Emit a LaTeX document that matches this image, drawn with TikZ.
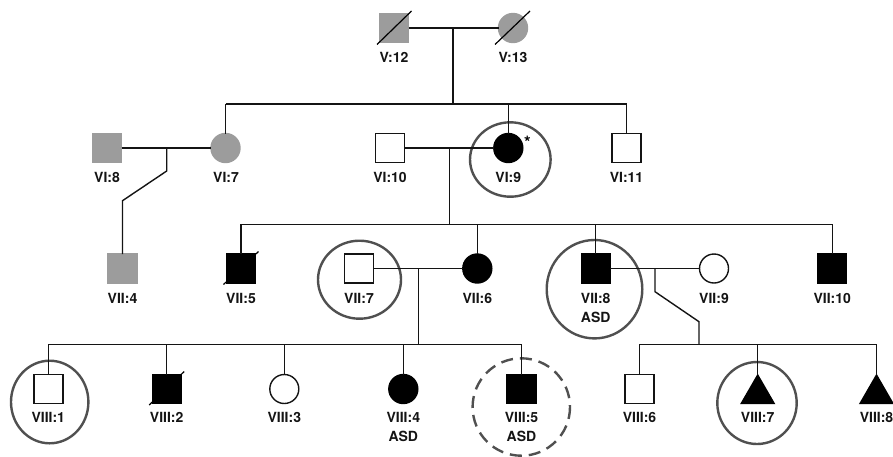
\documentclass[tikz,border=0pt]{standalone}
\usepackage{fontspec}
\setmainfont{TeX Gyre Heros}
\usetikzlibrary{shapes.geometric}
\definecolor{pgray}{RGB}{156,156,156}
\definecolor{ringc}{RGB}{80,80,80}
\definecolor{linec}{RGB}{20,20,20}
\begin{document}
\begin{tikzpicture}[x=1pt,y=-1pt, line width=1.4pt, draw=linec,
  every node/.style={inner sep=0pt, outer sep=0pt},
  sq/.style={draw=linec, rectangle, minimum size=29pt, fill=white},
  ci/.style={draw=linec, circle, minimum size=29pt, fill=white},
  tri/.style={draw=black, fill=black, regular polygon, regular polygon sides=3, minimum size=38pt},
  aff/.style={fill=black, draw=black},
  grayed/.style={fill=pgray, draw=pgray},
  lbl/.style={font=\bfseries\fontsize{14}{14}\selectfont, text=linec},
  ring/.style={draw=ringc, line width=2.4pt},
  dring/.style={draw=ringc, line width=2.4pt, dash pattern=on 12pt off 7pt},
  dead/.style={line width=1.2pt, draw=black}]
\useasboundingbox (0,0) rectangle (893,456);

% rings
\draw[ring] (510.3,159.5) ellipse [x radius=40.3, y radius=37.2];
\draw[ring] (359.5,279.7) ellipse [x radius=41.5, y radius=39];
\draw[ring] (594.5,289.2) ellipse [x radius=47.8, y radius=49.2];
\draw[ring] (49.7,402) ellipse [x radius=38.7, y radius=41.3];
\draw[dring] (521.3,407) ellipse [x radius=48.7, y radius=48.7];
\draw[ring] (757,403) ellipse [x radius=39.7, y radius=41];

% generation V
\node[sq, grayed] (v12) at (394,28) {};
\node[ci, grayed] (v13) at (513,28) {};
\node[lbl] at (394,57) {V:12};
\node[lbl] at (513,57) {V:13};
\draw[dead] ([shift={(-17,16.5)}]v12.center) -- ([shift={(17.5,-17)}]v12.center);
\draw[dead] ([shift={(-18,16.5)}]v13.center) -- ([shift={(17,-17)}]v13.center);
\draw (v12) -- (v13);
\coordinate (mV) at (453,28);
\coordinate (sV) at (453,104);
\draw (mV) -- (sV);

% generation VI
\node[sq, grayed] (vi8) at (107,148) {};
\node[ci, grayed] (vi7) at (225.5,148) {};
\node[sq] (vi10) at (390,148) {};
\node[ci, aff] (vi9) at (508.3,148) {};
\node[sq] (vi11) at (626.5,148) {};
\node[lbl] at (107,177.3) {VI:8};
\node[lbl] at (226,177.3) {VI:7};
\node[lbl] at (390,177.3) {VI:10};
\node[lbl] at (508.3,177.3) {VI:9};
\node[lbl] at (626.5,177.3) {VI:11};
\node[font=\bfseries\fontsize{17}{17}\selectfont] at (527.5,142) {*};
\coordinate (sVIa) at (225.5,104);
\coordinate (sVIb) at (508.3,104);
\coordinate (sVIc) at (626.5,104);
\draw (sVIa) -- (sVIc);
\draw (sVIa) -- (vi7);
\draw (sVIb) -- (vi9);
\draw (sVIc) -- (vi11);
\draw (vi8) -- (vi7);
\draw (vi10) -- (vi9);

% descent VI:8 x VI:7
\coordinate (m87) at (166.7,148);
\coordinate (k1) at (166.7,171);
\coordinate (k2) at (122.5,200.7);
\node[sq, grayed] (vii4) at (122.5,268.5) {};
\draw (m87) -- (k1) -- (k2) -- (vii4);

% generation VII
\coordinate (m910) at (449.3,148);
\coordinate (sVII) at (449.3,224.3);
\draw (m910) -- (sVII);
\node[sq, aff] (vii5) at (241,268.5) {};
\node[sq] (vii7) at (359,268.5) {};
\node[ci, aff] (vii6) at (477.3,268.5) {};
\node[sq, aff] (vii8) at (595.7,268.5) {};
\node[ci] (vii9) at (714,268.5) {};
\node[sq, aff] (vii10) at (832.2,268.5) {};
\draw[dead] ([shift={(-17.5,16)}]vii5.center) -- ([shift={(17.5,-17)}]vii5.center);
\coordinate (t5) at (241,224.3);
\coordinate (t6) at (477.3,224.3);
\coordinate (t8) at (595.7,224.3);
\coordinate (t10) at (832.2,224.3);
\draw (t5) -- (t10);
\draw (t5) -- (vii5);
\draw (t6) -- (vii6);
\draw (t8) -- (vii8);
\draw (t10) -- (vii10);
\draw (vii7) -- (vii6);
\draw (vii8) -- (vii9);
\node[lbl] at (122.5,298.7) {VII:4};
\node[lbl] at (241,298.7) {VII:5};
\node[lbl] at (359,298.7) {VII:7};
\node[lbl] at (477.3,298.7) {VII:6};
\node[lbl] at (595.7,298.7) {VII:8};
\node[lbl] at (595.7,317.5) {ASD};
\node[lbl] at (714,298.7) {VII:9};
\node[lbl] at (832.2,298.7) {VII:10};

% generation VIII, first sibship
\coordinate (m76) at (418.3,268.5);
\coordinate (sVIIIa) at (418.3,344.3);
\draw (m76) -- (sVIIIa);
\node[sq] (viii1) at (48.3,389) {};
\node[sq, aff] (viii2) at (166.7,389) {};
\node[ci] (viii3) at (284.3,389) {};
\node[ci, aff] (viii4) at (403.3,389) {};
\node[sq, aff] (viii5) at (521.5,389) {};
\draw[dead] ([shift={(-17.5,16)}]viii2.center) -- ([shift={(17.5,-17.5)}]viii2.center);
\coordinate (u1) at (48.3,344.3);
\coordinate (u2) at (166.7,344.3);
\coordinate (u3) at (284.3,344.3);
\coordinate (u4) at (403.3,344.3);
\coordinate (u5) at (521.5,344.3);
\draw (u1) -- (u5);
\draw (u1) -- (viii1);
\draw (u2) -- (viii2);
\draw (u3) -- (viii3);
\draw (u4) -- (viii4);
\draw (u5) -- (viii5);
\node[lbl] at (48.3,417.7) {VIII:1};
\node[lbl] at (166.7,417.7) {VIII:2};
\node[lbl] at (284.3,417.7) {VIII:3};
\node[lbl] at (403.3,417.7) {VIII:4};
\node[lbl] at (403.3,436.7) {ASD};
\node[lbl] at (521.5,417.7) {VIII:5};
\node[lbl] at (521.5,436.7) {ASD};

% generation VIII, second sibship
\coordinate (m89) at (655,268.5);
\coordinate (j1) at (655,291.7);
\coordinate (j2) at (699,321.7);
\coordinate (sVIIIb) at (699,344.3);
\draw (m89) -- (j1) -- (j2) -- (sVIIIb);
\node[sq] (viii6) at (639.5,389) {};
\node[tri] (viii7) at (757.7,394) {};
\node[tri] (viii8) at (876.5,394) {};
\coordinate (w6) at (639.5,344.3);
\coordinate (w7) at (757.7,344.3);
\coordinate (w8) at (876.5,344.3);
\draw (w6) -- (w8);
\draw (w6) -- (viii6);
\draw (w7) -- (viii7);
\draw (w8) -- (viii8);
\node[lbl] at (639.5,417.7) {VIII:6};
\node[lbl] at (757.7,417.7) {VIII:7};
\node[lbl] at (876.5,417.7) {VIII:8};
\end{tikzpicture}
\end{document}
